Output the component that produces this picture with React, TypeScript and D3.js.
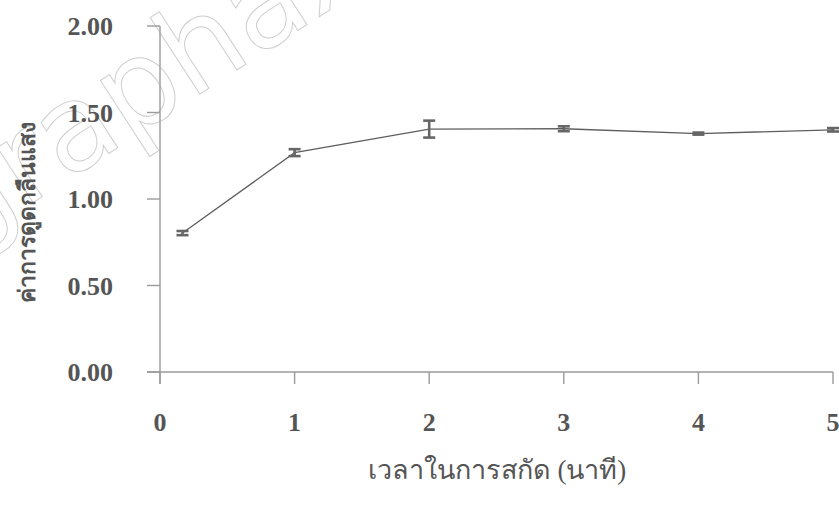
import React from "react";
import * as d3 from "d3";

const times = [0.167, 1, 2, 3, 4, 5];
const absorbance = [0.803, 1.268, 1.404, 1.406, 1.378, 1.4];
const errors = [0.012, 0.02, 0.049, 0.014, 0.006, 0.01];
const xTicks = [0, 1, 2, 3, 4, 5];
const yTicks = [0, 0.5, 1.0, 1.5, 2.0];

const W = 839;
const H = 518;
const margin = { left: 160, top: 26, right: 6, bottom: 145 };

const serif = "'Liberation Serif', 'Times New Roman', 'Noto Sans', 'DejaVu Sans', serif";
const axisColor = "#9a9a9a";
const textColor = "#555";

export default function App() {
  const x = d3.scaleLinear().domain([0, 5]).range([margin.left, 833]);
  const y = d3.scaleLinear().domain([0, 2]).range([372, margin.top]);
  const line = d3
    .line<number>()
    .x((_, i) => x(times[i]))
    .y((d) => y(d));

  return (
    <svg
      width={W}
      height={H}
      style={{ position: "absolute", left: 0, top: 0, background: "#fff" }}
    >
      {/* watermark */}
      <text
        x={0}
        y={0}
        transform="translate(-40,250) rotate(-33)"
        fontFamily="'DejaVu Sans', sans-serif"
        fontSize={120}
        fill="none"
        stroke="#cfcfcf"
        strokeWidth={1}
      >
        graphax
      </text>

      {/* y axis */}
      <line x1={x(0)} x2={x(0)} y1={y(2)} y2={y(0) + 12} stroke={axisColor} strokeWidth={1.4} />
      {yTicks.map((t) => (
        <g key={"y" + t}>
          <line x1={x(0) - 13} x2={x(0)} y1={y(t)} y2={y(t)} stroke={axisColor} strokeWidth={1.4} />
          <text
            x={113}
            y={y(t)}
            dy="0.35em"
            textAnchor="end"
            fontFamily={serif}
            fontWeight="bold"
            fontSize={26}
            fill={textColor}
          >
            {d3.format(".2f")(t)}
          </text>
        </g>
      ))}

      {/* x axis */}
      <line x1={x(0) - 13} x2={x(5)} y1={y(0)} y2={y(0)} stroke={axisColor} strokeWidth={1.4} />
      {xTicks.map((t) => (
        <g key={"x" + t}>
          <line x1={x(t)} x2={x(t)} y1={y(0)} y2={y(0) + 12} stroke={axisColor} strokeWidth={1.4} />
          <text
            x={x(t)}
            y={422}
            dy="0.35em"
            textAnchor="middle"
            fontFamily={serif}
            fontWeight="bold"
            fontSize={26}
            fill={textColor}
          >
            {t}
          </text>
        </g>
      ))}

      {/* series */}
      <path d={line(absorbance) ?? ""} fill="none" stroke="#5e5e5e" strokeWidth={1.3} />
      {absorbance.map((v, i) => {
        const cx = x(times[i]);
        const top = y(v + errors[i]);
        const bot = y(v - errors[i]);
        return (
          <g key={"e" + i} stroke="#666" strokeWidth={2.6}>
            <line x1={cx} x2={cx} y1={top} y2={bot} />
            <line x1={cx - 6} x2={cx + 6} y1={top} y2={top} />
            <line x1={cx - 6} x2={cx + 6} y1={bot} y2={bot} />
          </g>
        );
      })}

      {/* axis titles */}
      <text
        x={497}
        y={470}
        dy="0.35em"
        textAnchor="middle"
        fontFamily={serif}
        fontSize={27}
        fill={textColor}
      >
        เวลาในการสกัด (นาที)
      </text>
      <text
        transform="translate(27,212) rotate(-90)"
        dy="0.35em"
        textAnchor="middle"
        fontFamily={serif}
        fontWeight="bold"
        fontSize={23}
        fill={textColor}
      >
        ค่าการดูดกลืนแสง
      </text>
    </svg>
  );
}
